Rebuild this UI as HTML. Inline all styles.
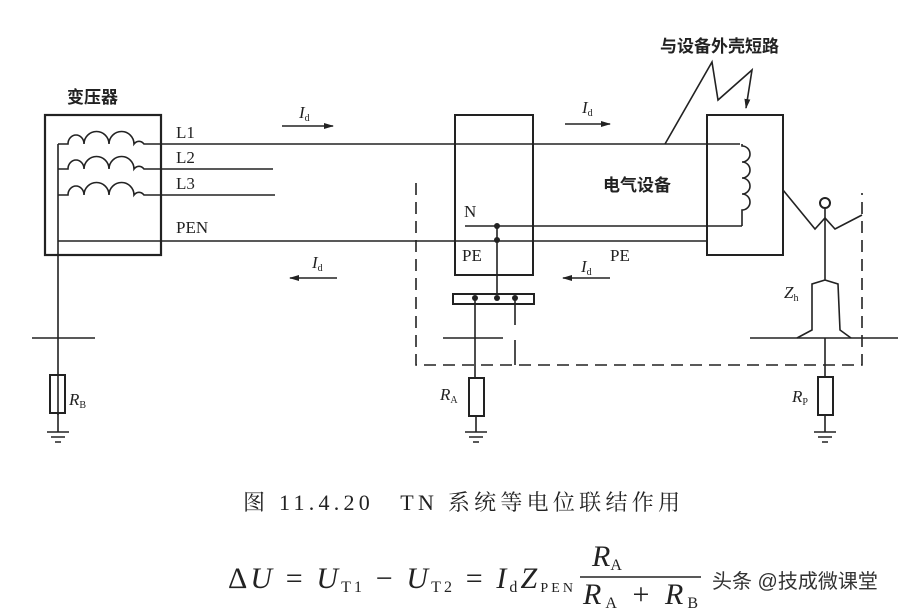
<!DOCTYPE html>
<html><head><meta charset="utf-8"><style>
html,body{margin:0;padding:0;background:#fff;}
svg{display:block;}
.t{font-family:"Liberation Serif","Noto Serif CJK SC",serif;fill:#222;}
.c{font-family:"Liberation Sans","Noto Sans CJK SC",sans-serif;fill:#222;font-weight:bold;}
</style></head><body>
<svg width="924" height="616" viewBox="0 0 924 616" xmlns="http://www.w3.org/2000/svg">
<defs><marker id="ar" markerWidth="10" markerHeight="6" refX="9" refY="3" orient="auto" markerUnits="userSpaceOnUse"><path d="M0,0 L10,3 L0,6 Z" fill="#222"/></marker></defs>
<g stroke="#222" stroke-width="1.6" fill="none">
<rect x="45" y="115" width="116" height="140" stroke-width="2.2"/>
<path d="M58,144 H68 a8,9 0 0 1 16,0 a9,9 0 0 1 25,0 a9,9 0 0 1 25,0 a7,9 0 0 1 10,0 H740"/>
<path d="M58,169 H68 a8,9 0 0 1 16,0 a9,9 0 0 1 25,0 a9,9 0 0 1 25,0 a7,9 0 0 1 10,0 H273"/>
<path d="M58,195 H68 a8,9 0 0 1 16,0 a9,9 0 0 1 25,0 a9,9 0 0 1 25,0 a7,9 0 0 1 10,0 H275"/>
<path d="M58,144 V415"/>
<path d="M58,241 H707"/>
<path d="M32,338 H95"/>
<rect x="50" y="375" width="15" height="38" stroke-width="2"/>
<path d="M58,413 V432 M47,432 H69 M51,437 H65 M55,442 H61"/>
<path d="M282,126 H333" marker-end="url(#ar)"/>
<path d="M337,278 H290" marker-end="url(#ar)"/>
<path d="M565,124 H610" marker-end="url(#ar)"/>
<path d="M610,278 H563" marker-end="url(#ar)"/>
<rect x="455" y="115" width="78" height="160" stroke-width="2"/>
<path d="M465,226 H742"/>
<path d="M497,226 V294"/>
<rect x="453" y="294" width="81" height="10" stroke-width="2"/>
<path d="M475,298 V378 M515,298 V325 M515,340 V365"/>
<path d="M443,338 H503"/>
<rect x="469" y="378" width="15" height="38" stroke-width="2"/>
<path d="M476,416 V432 M465,432 H487 M469,437 H483 M473,442 H479"/>
<path d="M416,183 V365 H862 V193" stroke-dasharray="12,7"/>
<rect x="707" y="115" width="76" height="140" stroke-width="2"/>
<path d="M742,144 V146 a8,8 0 0 1 0,16 a8,8 0 0 1 0,16 a8,8 0 0 1 0,16 a8,8 0 0 1 0,16 V226"/>
<path d="M665,144 L712,62 L718,100 L752,70 L746,108" marker-end="url(#ar)"/>
<path d="M783,190 L815,229 L825,218 L835,229 L862,215"/>
<circle cx="825" cy="203" r="5" stroke-width="2"/>
<path d="M825,208 V280 M825,280 L812,284 V330 L797,338 M825,280 L838,284 L840,330 L851,338"/>
<path d="M750,338 H898"/>
<path d="M825,338 V377"/>
<rect x="818" y="377" width="15" height="38" stroke-width="2"/>
<path d="M825,415 V432 M814,432 H836 M818,437 H832 M822,442 H828"/>
</g>
<g fill="#222">
<circle cx="497" cy="226" r="3"/><circle cx="497" cy="240" r="3"/>
<circle cx="475" cy="298" r="3"/><circle cx="497" cy="298" r="3"/><circle cx="515" cy="298" r="3"/>
</g>
<text class="c" x="67" y="103" font-size="17">变压器</text>
<text class="c" x="660" y="52" font-size="17">与设备外壳短路</text>
<text class="c" x="603" y="191" font-size="17">电气设备</text>
<g class="t" font-size="17">
<text x="176" y="138">L1</text><text x="176" y="163">L2</text><text x="176" y="189">L3</text>
<text x="176" y="233">PEN</text>
<text x="464" y="217">N</text><text x="462" y="261">PE</text><text x="610" y="261">PE</text>
<text x="299" y="118" font-style="italic">I<tspan font-size="10" font-style="normal" dy="3">d</tspan></text>
<text x="312" y="268" font-style="italic">I<tspan font-size="10" font-style="normal" dy="3">d</tspan></text>
<text x="582" y="113" font-style="italic">I<tspan font-size="10" font-style="normal" dy="3">d</tspan></text>
<text x="581" y="272" font-style="italic">I<tspan font-size="10" font-style="normal" dy="3">d</tspan></text>
<text x="69" y="405" font-style="italic">R<tspan font-size="10" font-style="normal" dy="3">B</tspan></text>
<text x="440" y="400" font-style="italic">R<tspan font-size="10" font-style="normal" dy="3">A</tspan></text>
<text x="792" y="402" font-style="italic">R<tspan font-size="10" font-style="normal" dy="3">P</tspan></text>
<text x="784" y="298" font-style="italic">Z<tspan font-size="10" font-style="normal" dy="3">h</tspan></text>
</g>
<text class="t" x="243" y="510" font-size="22" textLength="437" lengthAdjust="spacing">图 11.4.20　TN 系统等电位联结作用</text>
<g class="t" font-size="30">
<text x="228" y="588" textLength="345" lengthAdjust="spacing">Δ<tspan font-style="italic">U</tspan> = <tspan font-style="italic">U</tspan><tspan font-size="16" dy="4">T1</tspan><tspan dy="-4"> − </tspan><tspan font-style="italic">U</tspan><tspan font-size="16" dy="4">T2</tspan><tspan dy="-4"> = </tspan><tspan font-style="italic">I</tspan><tspan font-size="16" dy="4">d</tspan><tspan dy="-4" font-style="italic">Z</tspan><tspan font-size="14" dy="4">PEN</tspan></text>
<text x="592" y="566" font-style="italic">R<tspan font-size="16" font-style="normal" dy="4">A</tspan></text>
<text x="583" y="604" textLength="115" lengthAdjust="spacing"><tspan font-style="italic">R</tspan><tspan font-size="16" dy="4">A</tspan><tspan dy="-4"> + </tspan><tspan font-style="italic">R</tspan><tspan font-size="16" dy="4">B</tspan></text>
</g>
<path d="M580,577 H701" stroke="#222" stroke-width="1.6"/>
<text x="712" y="588" font-size="20" font-family="Liberation Sans,Noto Sans CJK SC,sans-serif" fill="#333">头条 @技成微课堂</text>
</svg>
</body></html>
